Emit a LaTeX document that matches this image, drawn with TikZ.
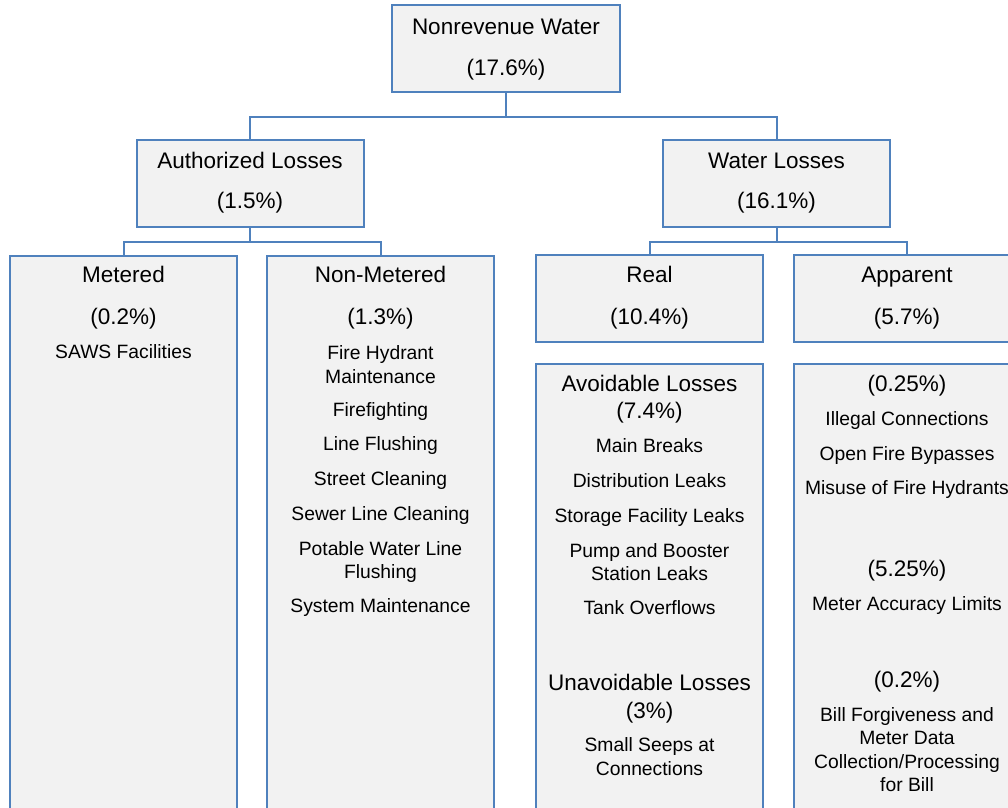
\documentclass[tikz,border=0pt]{standalone}
\usepackage{fontspec}
\setmainfont{Liberation Sans}
\usetikzlibrary{positioning}
\definecolor{boxblue}{HTML}{4F81BD}
\definecolor{boxgray}{HTML}{F2F2F2}

\begin{document}
\begin{tikzpicture}[x=1pt,y=-1pt,
  box/.style={draw=boxblue,line width=2pt,fill=boxgray,minimum width=227pt,inner sep=0pt},
  head/.style={font=\fontsize{22.5}{27}\selectfont,text height=16.1pt,text depth=0pt},
  item/.style={font=\fontsize{19.3}{23.2}\selectfont,text height=13.8pt,text depth=0pt},
  lines/.style={font=\fontsize{19.3}{23.2}\selectfont,align=center},
  link/.style={draw=boxblue,line width=2pt}]
\useasboundingbox (0,0) rectangle (1008,807);
\clip (0,0) rectangle (1008,807);
% boxes
\node[box,minimum width=228pt,minimum height=87pt] (nrw) at (506,48.5) {};
\node[box,minimum height=87pt] (auth) at (250,183.5) {};
\node[box,minimum height=87pt] (wl) at (776.5,183.5) {};
\node[box,minimum height=580pt,anchor=north] (met) at (123.5,255) {};
\node[box,minimum height=580pt,anchor=north] (nonmet) at (380.5,255) {};
\node[box,minimum height=87pt] (real) at (649.5,298.5) {};
\node[box,minimum height=87pt] (app) at (907,298.5) {};
\node[box,minimum height=470pt,anchor=north] (avoid) at (649.5,363) {};
\node[box,minimum height=470pt,anchor=north] (appdet) at (907,363) {};
% connectors
\draw[link] (nrw.south) -- ++(0,24) -| (auth.north);
\draw[link] (nrw.south) -- ++(0,24) -| (wl.north);
\draw[link] (auth.south) -- ++(0,14) -| (met.north);
\draw[link] (auth.south) -- ++(0,14) -| (nonmet.north);
\draw[link] (wl.south) -- ++(0,14) -| (real.north);
\draw[link] (wl.south) -- ++(0,14) -| (app.north);
% texts
\node[head] (nrwa) at (506,26) {Nonrevenue Water};
\node[head] (nrwb) at (506,67) {(17.6\%)};
\node[head] (autha) at (250,160) {Authorized Losses};
\node[head] (authb) at (250,200) {(1.5\%)};
\node[head] (wla) at (776.5,160) {Water Losses};
\node[head] (wlb) at (776.5,200) {(16.1\%)};
\node[head] (meta) at (123.5,274) {Metered};
\node[head] (metb) at (123.5,316) {(0.2\%)};
\node[item] (metc) at (123.5,352) {SAWS Facilities};
\node[head] (nonmeta) at (380.5,274) {Non-Metered};
\node[head] (nonmetb) at (380.5,316) {(1.3\%)};
\node[lines] (nm1) at (380.5,364.5) {Fire Hydrant\\Maintenance};
\node[item] (nm2) at (380.5,410) {Firefighting};
\node[item] (nm3) at (380.5,444) {Line Flushing};
\node[item] (nm4) at (380.5,479) {Street Cleaning};
\node[item] (nm5) at (380.5,514) {Sewer Line Cleaning};
\node[lines] (nm6) at (380.5,562) {Potable Water Line\\Flushing};
\node[item] (nm7) at (380.5,606) {System Maintenance};
\node[head] (reala) at (649.5,274) {Real};
\node[head] (realb) at (649.5,316) {(10.4\%)};
\node[head] (appa) at (907,274) {Apparent};
\node[head] (appb) at (907,316) {(5.7\%)};
\node[head] (av1) at (649.5,383) {Avoidable Losses};
\node[head] (av2) at (649.5,410) {(7.4\%)};
\node[item] (av3) at (649.5,446) {Main Breaks};
\node[item] (av4) at (649.5,481) {Distribution Leaks};
\node[item] (av5) at (649.5,516) {Storage Facility Leaks};
\node[lines] (av6) at (649.5,562) {Pump and Booster\\Station Leaks};
\node[item] (av7) at (649.5,608) {Tank Overflows};
\node[head] (un1) at (649.5,682) {Unavoidable Losses};
\node[head] (un2) at (649.5,710) {(3\%)};
\node[lines] (un3) at (649.5,756.5) {Small Seeps at\\Connections};
\node[head] (ap1) at (907,383) {(0.25\%)};
\node[item] (ap2) at (907,419) {Illegal Connections};
\node[item] (ap3) at (907,454) {Open Fire Bypasses};
\node[item] (ap4) at (907,488) {Misuse of Fire Hydrants};
\node[head] (ap5) at (907,568) {(5.25\%)};
\node[item] (ap6) at (907,604) {Meter Accuracy Limits};
\node[head] (ap7) at (907,679) {(0.2\%)};
\node[lines] (ap8) at (907,749.5) {Bill Forgiveness and\\Meter Data\\Collection/Processing\\for Bill};
\end{tikzpicture}
\end{document}
